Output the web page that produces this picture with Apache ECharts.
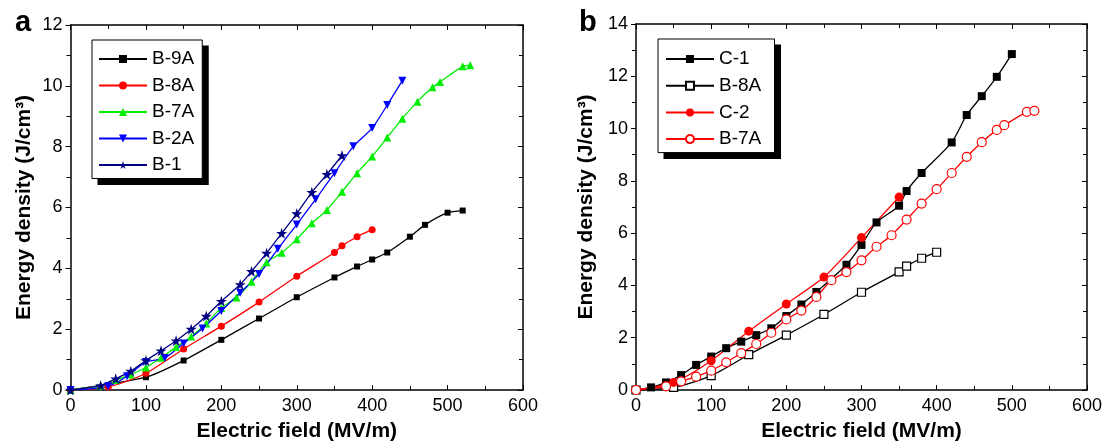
<!DOCTYPE html>
<html><head><meta charset="utf-8">
<script src="https://cdn.jsdelivr.net/npm/echarts@6/dist/echarts.min.js"></script>
<style>html,body{margin:0;padding:0;background:#fff}#c{width:1105px;height:447px}</style>
</head><body><div id="c"></div>
<script>
// ---------- data (panel a) ----------
const B9A_E = [0, 100, 150, 200, 250, 300, 350, 380, 400, 420, 450, 470, 500, 520];
const B9A_U = [0, 0.42, 0.97, 1.65, 2.35, 3.05, 3.70, 4.06, 4.29, 4.52, 5.04, 5.43, 5.83, 5.90];
const B8A_E = [0, 50, 100, 150, 200, 250, 300, 350, 360, 380, 400];
const B8A_U = [0, 0.10, 0.55, 1.35, 2.10, 2.89, 3.74, 4.52, 4.74, 5.04, 5.27];
const B7A_E = [0, 40, 60, 80, 100, 120, 140, 160, 180, 200, 220, 240, 260, 280, 300, 320, 340, 360, 380, 400, 420, 440, 460, 480, 490, 520, 530];
const B7A_U = [0, 0.14, 0.33, 0.51, 0.74, 1.06, 1.41, 1.76, 2.19, 2.70, 3.04, 3.56, 4.20, 4.51, 4.96, 5.48, 5.92, 6.52, 7.13, 7.68, 8.30, 8.92, 9.48, 9.95, 10.13, 10.64, 10.68];
const B2A_E = [0, 50, 75, 100, 125, 150, 175, 200, 225, 250, 275, 300, 325, 350, 375, 400, 420, 440];
const B2A_U = [0, 0.12, 0.45, 0.92, 1.05, 1.53, 2.02, 2.60, 3.20, 3.81, 4.64, 5.44, 6.27, 7.13, 8.01, 8.61, 9.37, 10.17];
const B1_E = [0, 40, 60, 80, 100, 120, 140, 160, 180, 200, 225, 240, 260, 280, 300, 320, 340, 360];
const B1_U = [0, 0.15, 0.37, 0.62, 0.97, 1.29, 1.62, 2.00, 2.43, 2.92, 3.47, 3.90, 4.50, 5.15, 5.80, 6.50, 7.09, 7.71];
// ---------- data (panel b) ----------
const C1_E = [0, 20, 40, 60, 80, 100, 120, 140, 160, 180, 200, 220, 240, 280, 300, 320, 350, 360, 380, 420, 440, 460, 480, 500];
const C1_U = [0, 0.10, 0.29, 0.57, 0.96, 1.28, 1.60, 1.85, 2.10, 2.36, 2.83, 3.27, 3.75, 4.79, 5.55, 6.41, 7.05, 7.61, 8.30, 9.47, 10.52, 11.24, 11.98, 12.85];
const C2_E = [0, 50, 100, 150, 200, 250, 300, 350];
const C2_U = [0, 0.29, 1.12, 2.25, 3.29, 4.32, 5.83, 7.38];
// axes
const X_MAX = 600, X_STEP = 100;
const YA_MAX = 12, YB_MAX = 14, Y_STEP = 2;
const X_LABEL = 'Electric field (MV/m)';
const Y_LABEL = 'Energy density (J/cm³)';

const zip = (xs, ys) => xs.map((x, i) => [x, ys[i]]);
const FONT = 'Liberation Sans';
const STAR = 'path://M50,0 L61.2,34.5 L97.6,34.5 L68.2,55.9 L79.4,90.5 L50,69.1 L20.6,90.5 L31.8,55.9 L2.4,34.5 L38.8,34.5 Z';
const DOWN = 'path://M0,0 L10,0 L5,9 Z';

function xAxes(grid) {
  return [
    {gridIndex: grid, type: 'value', min: 0, max: X_MAX, interval: X_STEP, position: 'bottom',
     name: X_LABEL, nameLocation: 'middle', nameGap: 31,
     nameTextStyle: {fontFamily: FONT, fontWeight: 'bold', fontSize: 21, color: '#000'},
     axisLine: {onZero: false, lineStyle: {color: '#000', width: 1.5}},
     axisTick: {inside: true, length: 5, lineStyle: {color: '#000'}},
     minorTick: {show: true, splitNumber: 2, length: 4, lineStyle: {color: '#000'}},
     axisLabel: {fontFamily: FONT, fontSize: 18, color: '#000', margin: 7},
     splitLine: {show: false}},
    {gridIndex: grid, type: 'value', min: 0, max: X_MAX, interval: X_STEP, position: 'top',
     axisLine: {onZero: false, lineStyle: {color: '#000', width: 1.5}},
     axisTick: {inside: true, length: 5, lineStyle: {color: '#000'}},
     minorTick: {show: true, splitNumber: 2, length: 4, lineStyle: {color: '#000'}},
     axisLabel: {show: false}, splitLine: {show: false}}
  ];
}
function yAxes(grid, max, gap) {
  return [
    {gridIndex: grid, type: 'value', min: 0, max: max, interval: Y_STEP, position: 'left',
     name: Y_LABEL, nameLocation: 'middle', nameGap: gap,
     nameTextStyle: {fontFamily: FONT, fontWeight: 'bold', fontSize: 21, color: '#000'},
     axisLine: {onZero: false, lineStyle: {color: '#000', width: 1.5}},
     axisTick: {inside: false, length: 5, lineStyle: {color: '#000'}},
     minorTick: {show: true, splitNumber: 2, length: 4, lineStyle: {color: '#000'}},
     axisLabel: {fontFamily: FONT, fontSize: 18, color: '#000', margin: 8},
     splitLine: {show: false}},
    {gridIndex: grid, type: 'value', min: 0, max: max, interval: Y_STEP, position: 'right',
     axisLine: {onZero: false, lineStyle: {color: '#000', width: 1.5}},
     axisTick: {inside: true, length: 5, lineStyle: {color: '#000'}},
     minorTick: {show: true, splitNumber: 2, length: 4, lineStyle: {color: '#000'}},
     axisLabel: {show: false}, splitLine: {show: false}}
  ];
}
function line(name, xs, ys, color, symbol, size, xi, yi, fill) {
  return {
    name: name, type: 'line', xAxisIndex: xi, yAxisIndex: yi, data: zip(xs, ys),
    smooth: 0.25, symbol: symbol, symbolSize: size, showSymbol: true,
    lineStyle: {color: color, width: 1.3},
    itemStyle: {color: fill || color, borderColor: color, borderWidth: fill ? 1.2 : 0, opacity: 1},
    emphasis: {disabled: true}, animation: false, z: 3
  };
}
const legendBase = {
  orient: 'vertical', backgroundColor: '#fff', borderColor: '#000', borderWidth: 1, z: 10,
  itemWidth: 48, itemHeight: 10, itemSymbolKeepAspect: true, selectedMode: false,
  textStyle: {fontFamily: FONT, fontSize: 19, color: '#000', lineHeight: 21}
};
const chart = echarts.init(document.getElementById('c'), null, {renderer: 'canvas'});
chart.setOption({
  animation: false,
  backgroundColor: '#fff',
  title: [
    {text: 'a', left: 10, top: 3, textStyle: {fontFamily: FONT, fontWeight: 'bold', fontSize: 29, color: '#000'}},
    {text: 'b', left: 574, top: 3, textStyle: {fontFamily: FONT, fontWeight: 'bold', fontSize: 29, color: '#000'}}
  ],
  grid: [
    {left: 70.5, top: 25, width: 452.5, height: 368},
    {left: 636, top: 24, width: 453, height: 369}
  ],
  xAxis: [...xAxes(0), ...xAxes(1)],
  yAxis: [...yAxes(0, YA_MAX, 36), ...yAxes(1, YB_MAX, 39)],
  legend: [
    Object.assign({}, legendBase, {left: 92, top: 40, padding: [8.5, 8, 3, 6], itemGap: 5.5,
      data: ['B-9A', 'B-8A', 'B-7A', 'B-2A', 'B-1']}),
    Object.assign({}, legendBase, {left: 658, top: 39, padding: [9.5, 8, 3, 7], itemGap: 5.7,
      data: ['C-1', 'B-8A ', 'C-2', 'B-7A ']})
  ],
  series: [
    line('B-9A', B9A_E, B9A_U, '#000000', 'rect', 6, 0, 0),
    line('B-8A', B8A_E, B8A_U, '#ff0000', 'circle', 7, 0, 0),
    line('B-7A', B7A_E, B7A_U, '#00ee00', 'triangle', 8, 0, 0),
    line('B-2A', B2A_E, B2A_U, '#0000ff', DOWN, 8, 0, 0),
    line('B-1', B1_E, B1_U, '#000080', STAR, 11, 0, 0),
    line('C-1', C1_E, C1_U, '#000000', 'rect', 8, 2, 2),
    line('B-8A ', B8A_E, B8A_U, '#000000', 'rect', 8, 2, 2, '#ffffff'),
    line('C-2', C2_E, C2_U, '#ff0000', 'circle', 9, 2, 2),
    line('B-7A ', B7A_E, B7A_U, '#ff0000', 'circle', 9, 2, 2, '#ffffff')
  ]
});
// drop shadow behind each legend box, sized from the rendered legend
(function () {
  const shadows = [];
  const fallback = [[92, 40, 112, 138], [658, 39, 112, 113]];
  for (let i = 0; i < 2; i++) {
    let b = null;
    try {
      const model = chart.getModel().getComponent('legend', i);
      const view = chart.getViewOfComponentModel(model);
      const r = view.group.getBoundingRect();
      b = [view.group.x + r.x, view.group.y + r.y, r.width, r.height];
    } catch (e) { b = null; }
    if (!b || !isFinite(b[0])) b = fallback[i];
    shadows.push({type: 'rect', z: 1, silent: true,
      shape: {x: b[0] + 6, y: b[1] + 6, width: b[2], height: b[3]},
      style: {fill: '#000'}});
  }
  chart.setOption({graphic: shadows});
})();
</script></body></html>
